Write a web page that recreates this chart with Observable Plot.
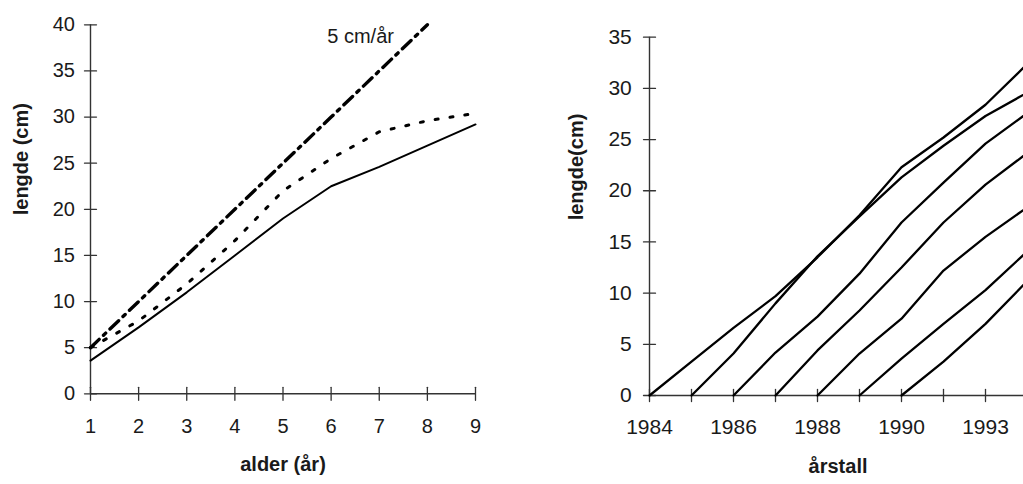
<!DOCTYPE html>
<html>
<head>
<meta charset="utf-8">
<script src="https://cdn.jsdelivr.net/npm/d3@7"></script>
<script src="https://cdn.jsdelivr.net/npm/@observablehq/plot@0.6"></script>
<style>
html, body { margin: 0; padding: 0; background: #fff; overflow: hidden; width: 1023px; height: 484px; position: relative; }
#left { position: absolute; left: 0; top: 0; width: 512px; height: 484px; }
#right { position: absolute; left: 512px; top: 0; width: 540px; height: 484px; }
#left svg, #right svg { max-width: none !important; }
g[aria-label="title"] text { letter-spacing: 0.8px; }
</style>
</head>
<body>
<div id="left"></div>
<div id="right"></div>
<script>
// ---------- Left panel data ----------
const ages = [1, 2, 3, 4, 5, 6, 7, 8, 9];
const solidLength = [3.6, 7.2, 11.0, 15.0, 19.0, 22.5, 24.6, 26.9, 29.2];
const dottedLength = [5.0, 7.9, 11.9, 16.6, 22.0, 25.5, 28.4, 29.6, 30.4];
const refAges = [1, 2, 3, 4, 5, 6, 7, 8];
const refLength = [5, 10, 15, 20, 25, 30, 35, 40];
const leftYTicks = [0, 5, 10, 15, 20, 25, 30, 35, 40];
const leftXTitle = "alder (år)";
const leftYTitle = "lengde (cm)";
const refLabel = [{age: 5.92, length: 38.75, text: "5 cm/år"}];

// ---------- Right panel data ----------
const years = ["1984", "1985", "1986", "1987", "1988", "1989", "1990", "1991", "1993", "1994"];
const yearTickLabels = ["1984", "1986", "1988", "1990", "1993"];
const rightYTicks = [0, 5, 10, 15, 20, 25, 30, 35];
const cohort1984 = [0, 3.3, 6.6, 9.7, 13.5, 17.6, 22.3, 25.2, 28.4, 32.4];
const cohort1985 = [null, 0, 4.1, 9.0, 13.6, 17.5, 21.3, 24.4, 27.3, 29.6];
const cohort1986 = [null, null, 0, 4.2, 7.7, 11.9, 16.9, 20.8, 24.6, 27.6];
const cohort1987 = [null, null, null, 0, 4.4, 8.3, 12.5, 16.9, 20.6, 23.7];
const cohort1988 = [null, null, null, null, 0, 4.1, 7.5, 12.2, 15.5, 18.4];
const cohort1989 = [null, null, null, null, null, 0, 3.6, 7.0, 10.3, 14.1];
const cohort1990 = [null, null, null, null, null, null, 0, 3.3, 7.0, 11.2];
const rightXTitle = "årstall";
const rightYTitle = "lengde(cm)";

const font = "'Liberation Sans', Arial, Helvetica, sans-serif";
const ink = "#1a1a1a";
const axisInk = "#333";

// tick shape centred on the axis line (crossing ticks)
const crossTick = {draw(ctx, l) { ctx.moveTo(0, l / 2); ctx.lineTo(0, -l / 2); }};

// ---------- Left panel ----------
const solidSeries = ages.map((a, i) => ({age: a, length: solidLength[i]}));
const dottedSeries = ages.map((a, i) => ({age: a, length: dottedLength[i]}));
const refSeries = refAges.map((a, i) => ({age: a, length: refLength[i]}));

const left = Plot.plot({
  width: 512,
  height: 484,
  marginLeft: 90,
  marginRight: 37,
  marginTop: 24.3,
  marginBottom: 90.7,
  style: {fontFamily: font, fontSize: "20px", color: ink, background: "white", overflow: "visible", maxWidth: "none"},
  x: {domain: [1, 9]},
  y: {domain: [0, 40]},
  marks: [
    Plot.ruleX([ages[0]], {y1: 0, y2: 40, stroke: axisInk, strokeWidth: 1.4}),
    Plot.ruleY([0], {x1: () => ages[0], x2: () => ages[ages.length - 1], stroke: axisInk, strokeWidth: 1.4}),
    Plot.vector(leftYTicks, {x: () => ages[0], y: d => d, length: 12, rotate: 90, anchor: "start", shape: crossTick, stroke: axisInk, strokeWidth: 1.3}),
    Plot.vector(ages, {x: d => d, y: () => 0, length: 13, rotate: 0, anchor: "start", shape: crossTick, stroke: axisInk, strokeWidth: 1.3}),
    Plot.axisY({ticks: leftYTicks, tickSize: 0, tickPadding: 15.5, label: null, fill: ink}),
    Plot.axisX({ticks: ages, tickSize: 0, tickPadding: 25, label: null, fill: ink}),
    Plot.line(refSeries, {x: "age", y: "length", stroke: "black", strokeWidth: 3.4, strokeDasharray: "12,6,3,6"}),
    Plot.line(dottedSeries, {x: "age", y: "length", stroke: "black", strokeWidth: 3, strokeDasharray: "3,12"}),
    Plot.line(solidSeries, {x: "age", y: "length", stroke: "black", strokeWidth: 2}),
    Plot.text(refLabel, {x: "age", y: "length", text: "text", textAnchor: "start", fontSize: 20, fill: ink}),
    Plot.text([leftXTitle], {frameAnchor: "bottom", dy: 77, fontWeight: "bold", fontSize: 20, fill: ink, ariaLabel: "title"}),
    Plot.text([leftYTitle], {frameAnchor: "left", rotate: -90, dx: -69, dy: 6, fontWeight: "bold", fontSize: 20, fill: ink, ariaLabel: "title"})
  ]
});
document.getElementById("left").append(left);

// ---------- Right panel ----------
const cohorts = [
  ["1984", cohort1984], ["1985", cohort1985], ["1986", cohort1986], ["1987", cohort1987],
  ["1988", cohort1988], ["1989", cohort1989], ["1990", cohort1990]
];
const cohortRows = cohorts.flatMap(([c, vals]) =>
  vals.map((v, i) => ({cohort: c, year: years[i], length: v})).filter(d => d.length != null)
);

const right = Plot.plot({
  width: 540,
  height: 484,
  marginLeft: 134.3,
  marginRight: 23.2,
  marginTop: 36.7,
  marginBottom: 89,
  style: {fontFamily: font, fontSize: "21px", color: ink, background: "white", overflow: "visible", maxWidth: "none"},
  x: {type: "point", domain: years, padding: 0},
  y: {domain: [0, 35]},
  marks: [
    Plot.ruleX([years[0]], {y1: 0, y2: 35, stroke: axisInk, strokeWidth: 1.4}),
    Plot.ruleY([0], {x1: () => years[0], x2: () => years[years.length - 1], stroke: axisInk, strokeWidth: 1.4}),
    Plot.vector(rightYTicks, {x: () => years[0], y: d => d, length: 12, rotate: 90, anchor: "start", shape: crossTick, stroke: axisInk, strokeWidth: 1.3}),
    Plot.vector(years, {x: d => d, y: () => 0, length: 12, rotate: 0, anchor: "start", shape: crossTick, stroke: axisInk, strokeWidth: 1.3}),
    Plot.axisY({ticks: rightYTicks, tickSize: 0, tickPadding: 15, label: null, fill: ink}),
    Plot.axisX({ticks: yearTickLabels, tickSize: 0, tickPadding: 24, label: null, fill: ink}),
    Plot.line(cohortRows, {x: "year", y: "length", z: "cohort", stroke: "black", strokeWidth: 2.3}),
    Plot.text([rightXTitle], {frameAnchor: "bottom", dy: 77, fontWeight: "bold", fontSize: 20, fill: ink, ariaLabel: "title"}),
    Plot.text([rightYTitle], {frameAnchor: "left", rotate: -90, dx: -70.5, dy: 4, fontWeight: "bold", fontSize: 20, fill: ink, ariaLabel: "title"})
  ]
});
document.getElementById("right").append(right);
</script>
</body>
</html>
